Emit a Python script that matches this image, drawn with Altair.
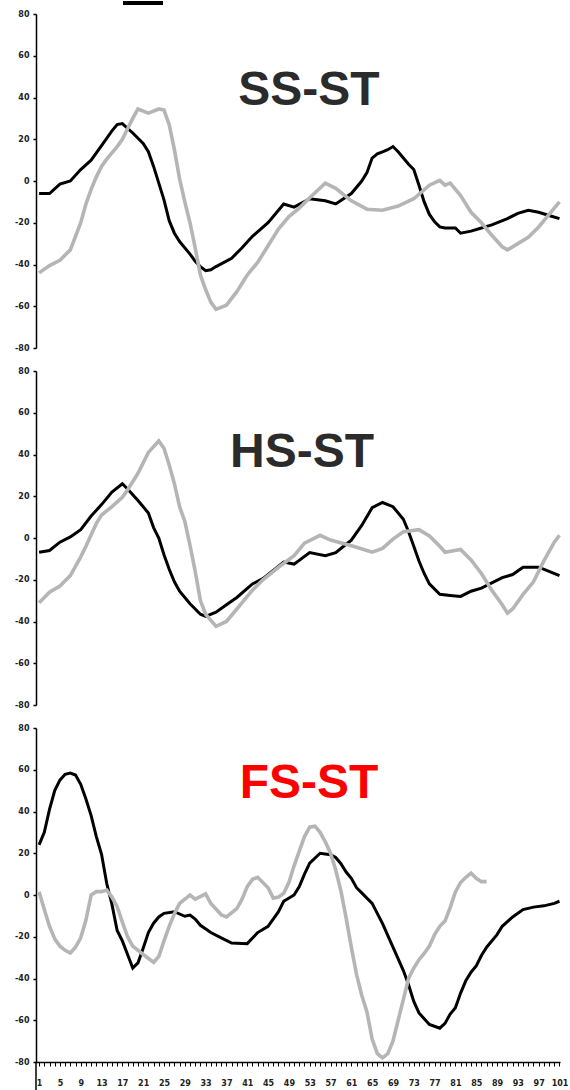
import altair as alt
import pandas as pd

# ---- SS-ST: black and gray traces ----
ss_black_x = [1, 3, 5, 7, 9, 11, 13, 15, 16, 17, 19, 21, 22, 23, 24, 25, 26, 27, 28, 30, 31, 32, 33, 34, 35, 38,
              40, 42, 45, 47, 48, 50, 53, 56, 58, 61, 63, 64, 65, 66, 67, 68, 69, 70, 71, 72, 73, 74, 75, 76, 77,
              78, 79, 81, 82, 84, 86, 88, 91, 93, 95, 97, 99, 101]
ss_black_y = [-6, -6, -1.5, 0, 5.5, 10, 17, 24, 27, 27.5, 23, 18, 14, 7, -1, -9, -19, -25, -29, -35, -38.5, -41,
              -43, -42.5, -41, -37, -32, -26.5, -20, -14, -11, -12.5, -8.5, -9.5, -11, -6, 0, 4, 11, 13, 14, 15,
              16.5, 14, 11, 8, 5.5, -2, -10, -16, -19.5, -22, -22.5, -22.5, -25, -24, -22.5, -21, -18, -15.5, -14,
              -15, -16.5, -18]

ss_gray_x = [1, 3, 5, 7, 9, 10, 11, 12, 13, 14, 15, 16, 17, 18, 19, 20, 22, 24, 25, 26, 27, 28, 29, 30, 31, 32,
             33, 34, 35, 37, 39, 41, 43, 45, 47, 49, 51, 53, 56, 58, 61, 64, 67, 70, 73, 76, 78, 79, 80, 82, 84,
             86, 88, 90, 91, 93, 95, 97, 99, 101]
ss_gray_y = [-44, -40.5, -38, -33, -20, -11, -4, 2, 7, 10.5, 13.5, 16.5, 20, 25, 30, 34.5, 32.5, 34.5, 34, 27, 15,
             1, -10, -20, -32, -45, -52, -58, -61.5, -59.5, -53, -45, -39, -31, -23, -17, -13, -8, -1, -3.5, -9.5,
             -13.5, -14, -12, -8.5, -2, 0.3, -2, -1, -7, -15, -20, -26, -31.5, -33, -30, -27, -22, -16, -10]

# ---- HS-ST: black and gray traces ----
hs_black_x = [1, 3, 5, 7, 9, 11, 13, 15, 17, 18, 20, 22, 23, 24, 25, 26, 27, 28, 30, 32, 33, 35, 37, 39, 42, 44,
              46, 48, 50, 53, 56, 58, 60, 61, 63, 65, 67, 69, 71, 72, 73, 74, 75, 76, 78, 80, 82, 84, 86, 88, 90,
              92, 94, 97, 99, 101]
hs_black_y = [-6.8, -6, -2, 0.5, 4, 10.5, 16, 22, 26, 23.5, 18, 12, 5, 0, -8, -15, -21, -25.5, -31.5, -36.5, -37.5,
              -35.5, -32, -28.5, -22, -19.5, -15.5, -11.5, -12.5, -7, -8.5, -7, -3, -1, 6, 14.5, 17, 15, 9, 3, -4,
              -11, -17, -22, -27, -27.5, -28, -25.5, -24, -21.5, -19, -17.5, -14, -14, -16, -18]

hs_gray_x = [1, 3, 5, 7, 9, 10, 12, 13, 15, 17, 18, 20, 22, 24, 25, 26, 27, 28, 29, 30, 31, 32, 33, 35, 37, 39, 42,
             44, 47, 50, 52, 55, 57, 60, 62, 65, 67, 69, 71, 74, 76, 78, 79, 82, 84, 86, 88, 90, 91, 92, 94, 96,
             98, 100, 101]
hs_gray_y = [-31, -26, -23, -18, -9, -4, 7, 11, 15, 19.5, 23, 31, 41, 46.5, 43, 35, 26, 15, 8, -3.5, -16, -30,
             -36.5, -42.3, -40, -34, -25, -20, -14, -8.5, -2.5, 1.3, -1, -3, -4.4, -6.8, -5, -0.5, 3, 4, 1, -4,
             -6.8, -5.5, -10.5, -17, -25, -32, -36, -34, -27, -21, -11, -2, 1.3]

# ---- FS-ST: black and gray traces ----
fs_black_x = [1, 2, 3, 4, 5, 6, 7, 8, 9, 10, 11, 12, 13, 14, 15, 16, 17, 18, 19, 20, 21, 22, 23, 24, 25, 27, 29,
              30, 31, 32, 34, 36, 38, 41, 43, 45, 47, 48, 50, 51, 52, 53, 55, 57, 58, 59, 60, 61, 62, 63, 65, 67,
              69, 71, 72, 73, 74, 76, 78, 79, 80, 81, 82, 83, 84, 85, 86, 87, 89, 90, 92, 94, 96, 98, 100, 101]
fs_black_y = [24, 30, 41, 50, 55, 57.8, 58.4, 57.5, 53, 46, 38, 28, 19.5, 5.5, -4.5, -17, -22, -28.5, -35, -32.5,
              -25.5, -18, -13.5, -10.5, -8.8, -8, -10.2, -9.6, -11.5, -14.5, -18, -20.5, -23, -23.3, -18, -15, -8,
              -3, 0, 4, 10, 15.3, 20, 19.3, 18, 15, 11, 8, 3.5, 1, -4, -13.7, -25, -36.2, -43, -51, -56.5, -62,
              -63.8, -61.5, -57, -54, -47, -41, -37, -34, -29, -25, -19, -15, -10.5, -7, -5.8, -5.2, -4, -3]

fs_gray_x = [1, 2, 3, 4, 5, 6, 7, 8, 9, 10, 11, 12, 13, 14, 15, 16, 17, 18, 19, 21, 23, 24, 25, 26, 27, 28, 30, 31,
             33, 34, 36, 37, 39, 40, 41, 42, 43, 44, 45, 46, 47, 48, 49, 50, 51, 52, 53, 54, 55, 56, 57, 58, 59,
             60, 61, 62, 63, 64, 65, 66, 67, 68, 69, 70, 71, 72, 73, 74, 75, 76, 77, 78, 79, 80, 81, 82, 83, 84,
             85, 86, 87]
fs_gray_y = [1.6, -7, -15, -21, -24.5, -26.5, -27.8, -25, -20.5, -12, 0, 1.6, 1.6, 2.4, -1, -5.6, -13, -20, -24.5,
             -28.5, -32.2, -29.5, -22, -15, -9, -4, 0, -2, 0.5, -4, -9.5, -10.5, -6.5, -2, 4, 7.5, 8.5, 6, 3.5,
             -1.5, -1, 0.8, 6, 14, 21, 28, 32.5, 33, 30, 25.5, 20, 12, 2, -11, -25, -38, -48, -56, -69, -76, -78,
             -76, -70, -60, -50, -40, -35, -31, -28, -24.5, -19, -15, -12.5, -6, 1.5, 6, 8.5, 10.5, 8, 6.4, 6.4]

W, H = 524, 334
X_DOMAIN = [0.405, 101.1]
LABEL_FONT = "DejaVu Sans"

y_axis = alt.Axis(
    values=list(range(-80, 81, 20)), title=None, grid=False,
    labelExpr="'' + datum.value",
    domainColor="#000000", domainWidth=1.5, tickColor="#000000", tickWidth=1.5, tickSize=3,
    labelFont=LABEL_FONT, labelFontWeight="bold", labelFontSize=8, labelColor="#222222",
    labelPadding=4, labelFlush=False,
)
x_axis = alt.Axis(
    values=list(range(1, 102)),
    labelExpr="(datum.value - 1) % 4 == 0 ? '' + datum.value : ''",
    title=None, grid=False,
    domainColor="#000000", domainWidth=1.5, tickColor="#000000", tickWidth=1, tickSize=4,
    labelFont=LABEL_FONT, labelFontWeight="bold", labelFontSize=8, labelColor="#222222",
    labelPadding=13, labelFlush=False, labelOverlap=False,
)


def trace(xs, ys):
    return pd.DataFrame({"x": xs, "y": ys})


def panel(black, gray, title, title_color, tx, ty, bottom=False, extras=()):
    x_enc = alt.X("x:Q", scale=alt.Scale(domain=X_DOMAIN, nice=False, zero=False),
                  axis=x_axis if bottom else None)
    y_enc = alt.Y("y:Q", scale=alt.Scale(domain=[-80, 80], nice=False, zero=False), axis=y_axis)
    black_line = alt.Chart(black).mark_line(color="#000000", strokeWidth=3).encode(x=x_enc, y=y_enc)
    gray_line = alt.Chart(gray).mark_line(color="#b5b5b5", strokeWidth=3.6).encode(x=x_enc, y=y_enc)
    label = alt.Chart(pd.DataFrame({"t": [title]})).mark_text(
        font="Liberation Sans", fontWeight="bold", fontSize=48, color=title_color,
        align="center", baseline="alphabetic",
    ).encode(text="t:N", x=alt.value(tx), y=alt.value(ty))
    return alt.layer(black_line, gray_line, label, *extras).properties(width=W, height=H)


one = pd.DataFrame({"k": [0]})
# cropped block above the first panel
top_block = alt.Chart(one).mark_rect(color="#000000").encode(
    x=alt.value(87), x2=alt.value(127), y=alt.value(-13), y2=alt.value(-9)
)
# category-axis origin line running below the last panel
origin_rule = alt.Chart(one).mark_rule(color="#000000", strokeWidth=1.5).encode(
    x=alt.value(0), y=alt.value(H), y2=alt.value(H + 28)
)

p1 = panel(trace(ss_black_x, ss_black_y), trace(ss_gray_x, ss_gray_y), "SS-ST", "#2b2b2b", 273, 91,
           extras=(top_block,))
p2 = panel(trace(hs_black_x, hs_black_y), trace(hs_gray_x, hs_gray_y), "HS-ST", "#2b2b2b", 266, 96)
p3 = panel(trace(fs_black_x, fs_black_y), trace(fs_gray_x, fs_gray_y), "FS-ST", "#ff0000", 273, 70,
           bottom=True, extras=(origin_rule,))

chart = alt.vconcat(p1, p2, p3, spacing=23, bounds="flush").properties(
    padding={"left": 14, "top": 0, "right": 0, "bottom": 0},
    background="#ffffff",
).configure_view(stroke="transparent")

chart.save("out.html", embed_options={"renderer": "svg", "actions": False})
